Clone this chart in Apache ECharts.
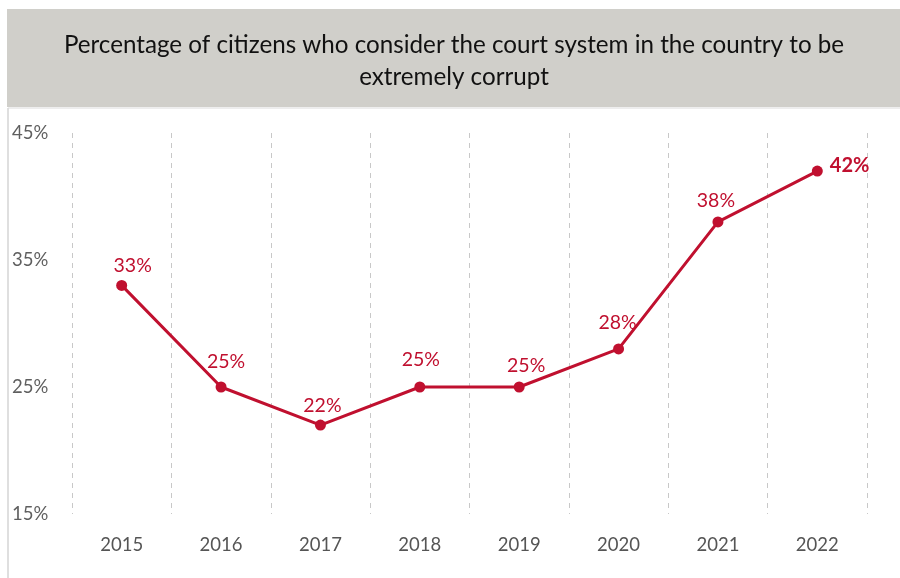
<!DOCTYPE html>
<html>
<head>
<meta charset="utf-8">
<script src="https://cdn.jsdelivr.net/npm/echarts@6/dist/echarts.min.js"></script>
<style>
  html, body { margin: 0; padding: 0; background: #ffffff; }
  #chart { width: 900px; height: 578px; }
</style>
</head>
<body>
<div id="chart"></div>
<script>
// Survey years and share of citizens rating the courts as extremely corrupt (%)
const years = ['2015', '2016', '2017', '2018', '2019', '2020', '2021', '2022'];
const corruptShare = [33, 25, 22, 25, 25, 28, 38, 42];
const yTicks = [15, 25, 35, 45];

// Small per-label nudges [dx, dy] so the value labels sit clear of the line
const labelNudge = [[11, 0], [5, -6], [2, 0], [1, -8], [7, -2], [-1, -7], [-2, -2], [0, -6]];

const titleLines = 'Percentage of citizens who consider the court system in the country to be\nextremely corrupt';
const font = 'Lato, "Open Sans", sans-serif';
const red = '#c0102f';

const chart = echarts.init(document.getElementById('chart'), null, { renderer: 'canvas' });

const lastIdx = corruptShare.length - 1;
const seriesData = corruptShare.map((v, i) => {
  const label = { offset: labelNudge[i] };
  if (i === lastIdx) {
    Object.assign(label, { position: 'right', distance: 7, fontWeight: 'bold', fontSize: 20 });
  }
  return { value: v, label };
});

chart.setOption({
  animation: false,
  backgroundColor: '#ffffff',
  graphic: [
    {
      type: 'rect',
      shape: { x: 7, y: 9, width: 893, height: 98 },
      style: { fill: '#d0cfca' },
      silent: true
    },
    {
      type: 'line',
      shape: { x1: 8, y1: 108, x2: 8, y2: 578 },
      style: { stroke: '#d4d4d4', lineWidth: 1.5 },
      silent: true
    },
    {
      type: 'line',
      shape: { x1: 8, y1: 108, x2: 900, y2: 108 },
      style: { stroke: '#dcdcdc', lineWidth: 1 },
      silent: true
    },
    {
      type: 'text',
      x: 454,
      y: 29,
      style: {
        text: titleLines,
        font: '24.2px ' + font,
        fill: '#111111',
        align: 'center',
        textAlign: 'center',
        lineHeight: 32
      },
      silent: true
    }
  ],
  grid: { left: 72, right: 33, top: 133, bottom: 64, containLabel: false },
  xAxis: {
    type: 'category',
    data: years,
    boundaryGap: true,
    axisLine: { show: false },
    axisTick: { show: false },
    axisLabel: { color: '#555555', fontSize: 18.5, fontFamily: font, margin: 22 },
    splitLine: {
      show: true,
      interval: 0,
      lineStyle: { color: '#c8c8c8', type: [5, 5], width: 1 }
    }
  },
  yAxis: {
    type: 'value',
    min: 15,
    max: 45,
    interval: 10,
    axisLine: { show: false },
    axisTick: { show: false },
    splitLine: { show: false },
    axisLabel: {
      color: '#5f5f5f',
      fontSize: 18.5,
      fontFamily: font,
      align: 'left',
      margin: 60,
      formatter: v => (yTicks.includes(v) ? v + '%' : '')
    }
  },
  series: [
    {
      type: 'line',
      data: seriesData,
      color: red,
      lineStyle: { color: red, width: 3 },
      symbol: 'circle',
      symbolSize: 11,
      itemStyle: { color: red },
      label: {
        show: true,
        position: 'top',
        distance: 4,
        color: red,
        fontSize: 19.5,
        fontFamily: font,
        formatter: p => p.value + '%'
      }
    }
  ]
});
</script>
</body>
</html>
